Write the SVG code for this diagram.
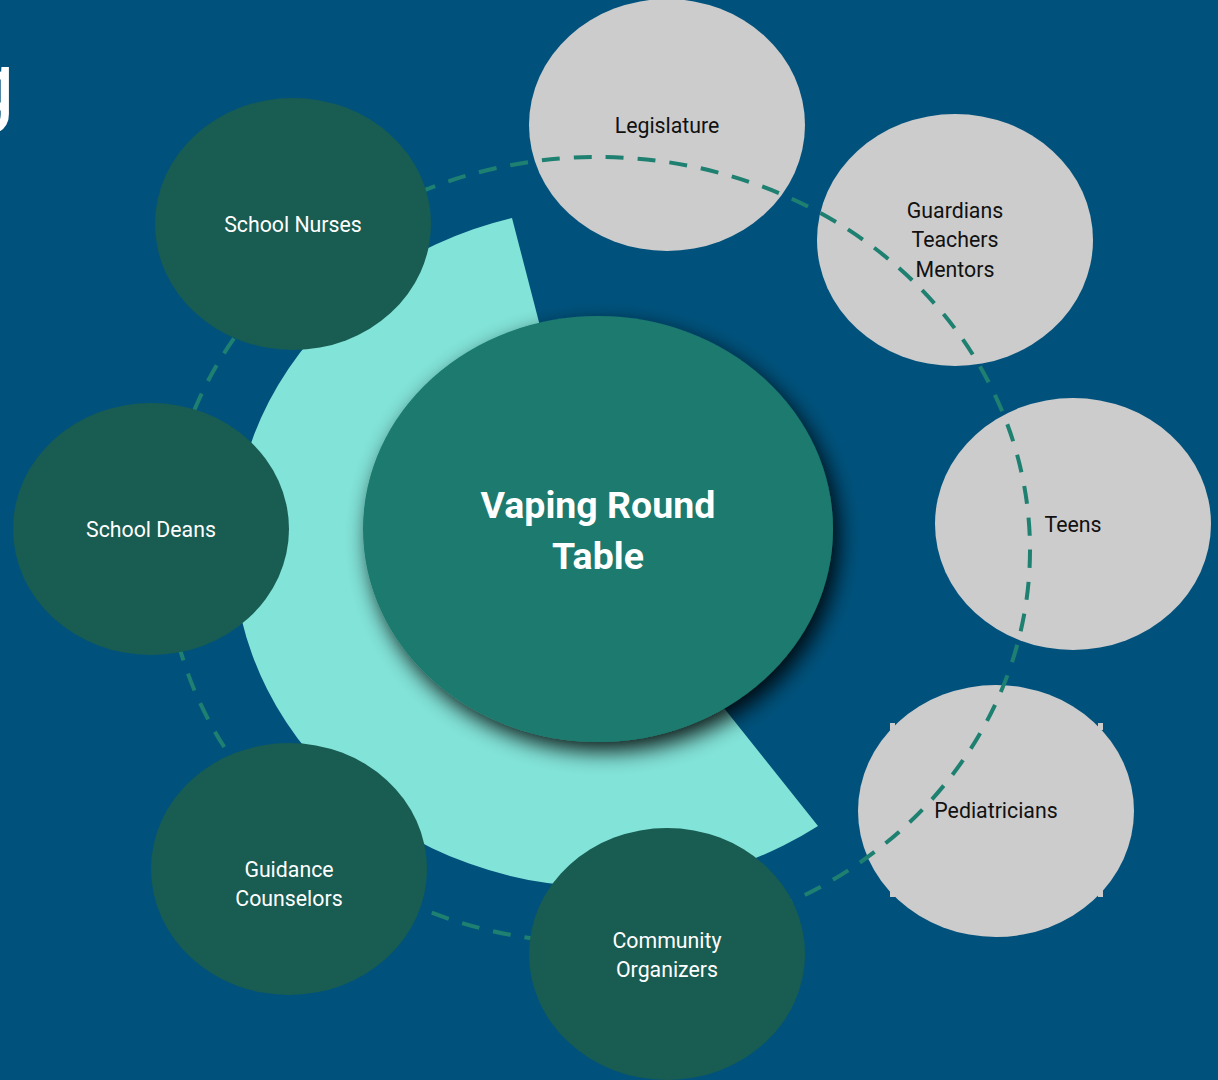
<svg xmlns="http://www.w3.org/2000/svg" width="1218" height="1080" viewBox="0 0 1218 1080">
  <defs>
    <style>
      .bg { fill: #00527C; }
      .sector { fill: #82E3D8; }
      .dark { fill: #185C52; }
      .light { fill: #CCCCCC; }
      .center { fill: #1C7A6E; }
      .ring { fill: none; stroke: #1E8070; stroke-width: 4; stroke-dasharray: 18 14; }
      .lbl { font-family: Roboto, "Liberation Sans", sans-serif; font-size: 21.3px; text-anchor: middle; }
      .lw { fill: #FFFFFF; }
      .lb { fill: #111111; }
      .title { font-family: Roboto, "Liberation Sans", sans-serif; font-size: 37.5px; font-weight: bold; fill: #FFFFFF; text-anchor: middle; }
    </style>
    <filter id="shadow" x="-25%" y="-25%" width="150%" height="150%">
      <feGaussianBlur in="SourceAlpha" stdDeviation="11"/>
      <feOffset dx="6" dy="9" result="b"/>
      <feComponentTransfer><feFuncA type="linear" slope="0.9"/></feComponentTransfer>
      <feMerge><feMergeNode/><feMergeNode in="SourceGraphic"/></feMerge>
    </filter>
  </defs>

  <rect class="bg" x="0" y="0" width="1218" height="1080"/>
  <text x="15" y="115" font-family="Roboto, 'Liberation Sans', sans-serif" font-size="90" fill="#FFFFFF" text-anchor="end">g</text>

  <path id="sector" class="sector" d="M 598 550 L 512 218 A 372 340 0 1 0 818 826 Z"/>

  <g id="node-center">
    <ellipse class="center" cx="598" cy="529" rx="235" ry="213" filter="url(#shadow)"/>
    <text class="title" x="598" y="518">Vaping Round</text>
    <text class="title" x="598" y="569">Table</text>
  </g>

  <g id="node-legislature">
    <ellipse class="light" cx="667" cy="125" rx="138" ry="126"/>
    <text class="lbl lb" x="667" y="133">Legislature</text>
  </g>
  <g id="node-guardians">
    <ellipse class="light" cx="955" cy="240" rx="138" ry="126"/>
    <text class="lbl lb" x="955" y="218">Guardians</text>
    <text class="lbl lb" x="955" y="247">Teachers</text>
    <text class="lbl lb" x="955" y="277">Mentors</text>
  </g>
  <g id="node-teens">
    <ellipse class="light" cx="1073" cy="524" rx="138" ry="126"/>
    <text class="lbl lb" x="1073" y="532">Teens</text>
  </g>
  <g id="node-pediatricians">
    <rect class="light" x="890" y="723" width="5" height="7"/>
    <rect class="light" x="1098" y="723" width="5" height="7"/>
    <rect class="light" x="890" y="890" width="5" height="7"/>
    <rect class="light" x="1098" y="890" width="5" height="7"/>
    <ellipse class="light" cx="996" cy="811" rx="138" ry="126"/>
    <text class="lbl lb" x="996" y="818">Pediatricians</text>
  </g>

  <g id="connectors">
    <ellipse class="ring" cx="598" cy="550" rx="432" ry="393"/>
  </g>

  <g id="node-school-nurses">
    <ellipse class="dark" cx="293" cy="224" rx="138" ry="126"/>
    <text class="lbl lw" x="293" y="232">School Nurses</text>
  </g>
  <g id="node-school-deans">
    <ellipse class="dark" cx="151" cy="529" rx="138" ry="126"/>
    <text class="lbl lw" x="151" y="537">School Deans</text>
  </g>
  <g id="node-guidance">
    <ellipse class="dark" cx="289" cy="869" rx="138" ry="126"/>
    <text class="lbl lw" x="289" y="877">Guidance</text>
    <text class="lbl lw" x="289" y="906">Counselors</text>
  </g>
  <g id="node-community">
    <ellipse class="dark" cx="667" cy="954" rx="138" ry="126"/>
    <text class="lbl lw" x="667" y="948">Community</text>
    <text class="lbl lw" x="667" y="977">Organizers</text>
  </g>
</svg>
